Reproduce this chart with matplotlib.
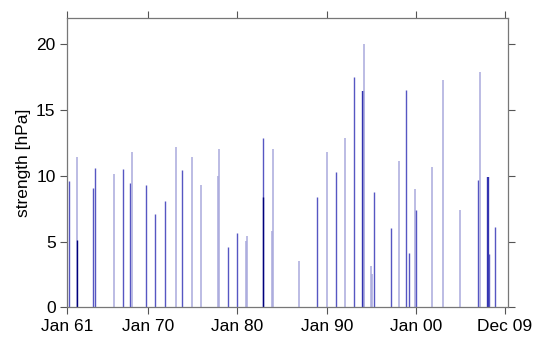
import matplotlib
matplotlib.use("Agg")
import matplotlib.pyplot as plt
import matplotlib.dates as mdates
import numpy as np

plt.rcParams['font.family'] = ['Liberation Sans', 'DejaVu Sans']

# storm events: date (decimal year), strength in hPa, shade class
years = [1961.22, 1962.08, 1962.08, 1963.84, 1964.06, 1966.26, 1967.20, 1968.05, 1968.20,
         1969.84, 1970.84, 1971.96, 1973.13, 1973.86, 1974.91, 1975.92, 1977.86, 1978.00,
         1978.90, 1979.95, 1980.99, 1981.13, 1982.92, 1982.92, 1983.82, 1983.98, 1986.92,
         1988.96, 1990.02, 1990.98, 1991.98, 1992.99, 1994.00, 1994.19, 1994.94, 1995.08,
         1995.23, 1997.13, 1998.10, 1998.81, 1999.14, 1999.86, 2000.00, 2001.79, 2003.02,
         2004.92, 2006.86, 2007.13, 2007.98, 2008.14, 2008.81]
strength = [9.6, 11.4, 5.1, 9.1, 10.6, 10.1, 10.5, 9.46, 11.8,
            9.3, 7.1, 8.07, 12.2, 10.4, 11.4, 9.3, 9.97, 12.05,
            4.6, 5.65, 5.05, 5.4, 12.9, 8.37, 5.83, 12.0, 3.52,
            8.42, 11.8, 10.3, 12.9, 17.5, 16.46, 20.04, 3.14, 2.53,
            8.75, 6.06, 11.1, 16.5, 4.16, 8.98, 7.4, 10.68, 17.27,
            7.4, 9.66, 17.9, 9.94, 4.03, 6.11]
shade = ['M', 'L', 'D', 'M', 'M', 'L', 'M', 'M', 'L',
         'M', 'M', 'M', 'L', 'M', 'L', 'L', 'L', 'L',
         'M', 'M', 'L', 'L', 'M', 'D', 'L', 'L', 'L',
         'M', 'L', 'M', 'L', 'M', 'T', 'L', 'L', 'L',
         'M', 'M', 'L', 'M', 'M', 'L', 'M', 'L', 'L',
         'L', 'M', 'L', 'T', 'M', 'M']

tick_dates = ['1961-01-01', '1970-01-01', '1980-01-01', '1990-01-01', '2000-01-01', '2009-12-01']
yticks = [0, 5, 10, 15, 20]

colors = {'L': '#a9a9dd', 'M': '#5656c2', 'D': '#00007a', 'T': '#3232b0'}
widths = {'L': 1.1, 'M': 1.0, 'D': 1.0, 'T': 1.7}


def to_date(y):
    yr = int(y)
    days = (y - yr) * 365.25
    return np.datetime64(f'{yr}-01-01') + np.timedelta64(int(round(days)), 'D')


dates = [to_date(y) for y in years]

fig = plt.figure(figsize=(5.35, 3.37), dpi=100)
ax = fig.add_axes([0.126, 0.088, 0.824, 0.859])

for d, s, c in zip(dates, strength, shade):
    ax.vlines(d, 0, s, color=colors[c], lw=widths[c])

ax.set_xlim(np.datetime64('1961-01-01'), np.datetime64('2010-04-15'))
ax.set_ylim(0, 22)
ax.set_xticks([np.datetime64(t) for t in tick_dates])
ax.xaxis.set_major_formatter(mdates.DateFormatter('%b %y'))
ax.set_yticks(yticks)
ax.set_ylabel('strength [hPa]', fontsize=12.5)

ax.tick_params(direction='out', length=5, width=0.8, color='#555555',
               labelsize=12.5, top=True, right=True)
for sp in ax.spines.values():
    sp.set_color('#777777')
    sp.set_linewidth(0.9)

fig.savefig('out.png', dpi=100)
